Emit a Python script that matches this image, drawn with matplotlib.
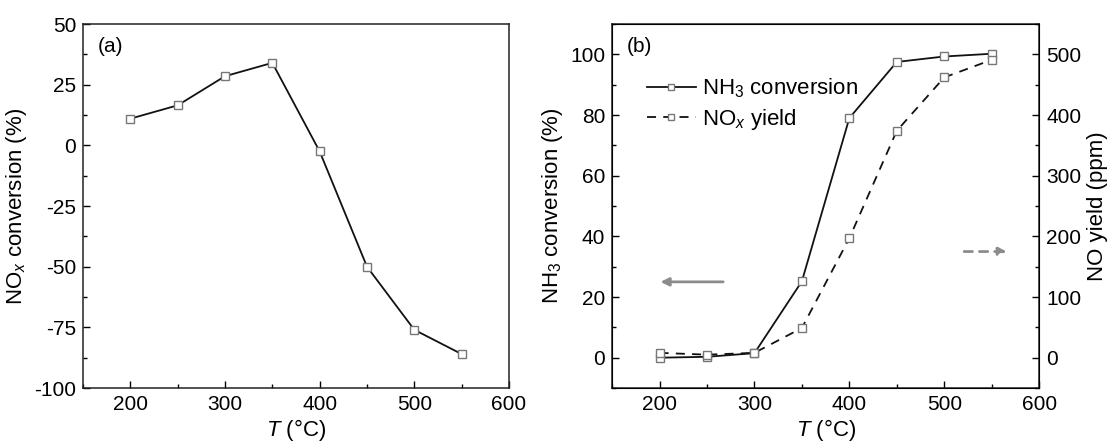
import matplotlib
matplotlib.use("Agg")
import matplotlib.pyplot as plt
from matplotlib.ticker import MultipleLocator, AutoMinorLocator

plt.rcParams['font.family'] = ['Liberation Sans', 'DejaVu Sans']
plt.rcParams['mathtext.fontset'] = 'custom'
plt.rcParams['mathtext.rm'] = 'Liberation Sans'
plt.rcParams['mathtext.it'] = 'Liberation Sans:italic'
plt.rcParams['axes.unicode_minus'] = False
plt.rcParams['font.size'] = 15
plt.rcParams['xtick.labelsize'] = 15
plt.rcParams['ytick.labelsize'] = 15
plt.rcParams['axes.labelsize'] = 16

# data
temps = [200, 250, 300, 350, 400, 450, 500, 550]
nox_conversion = [11, 16.5, 28.5, 34, -2.5, -50, -76, -86]      # %
nh3_conversion = [0, 0.3, 1.5, 25.2, 79, 97.5, 99.3, 100.2]      # %
nox_yield = [8, 5, 8, 49, 197, 374, 462, 491]                     # ppm

line_c = '#111111'
mk_edge = '#777777'
arrow_c = '#8c8c8c'

fig = plt.figure(figsize=(11.13, 4.45), dpi=100)
ax1 = fig.add_axes([0.0746, 0.128, 0.3827, 0.818])
ax2 = fig.add_axes([0.55, 0.128, 0.3836, 0.818])


def style_axis(ax):
    ax.tick_params(which='both', direction='in', top=False, right=False)
    ax.tick_params(which='major', length=5, width=1, pad=5)
    ax.tick_params(which='minor', length=3, width=1)
    for s in ax.spines.values():
        s.set_linewidth(1.1)
        s.set_color('#222222')


# (a) NOx conversion
ax1.plot(temps, nox_conversion, '-s', color=line_c, lw=1.3, ms=6,
         mfc='white', mec=mk_edge, mew=1.0)
ax1.set_xlim(150, 600)
ax1.set_ylim(-100, 50)
ax1.xaxis.set_major_locator(MultipleLocator(100))
ax1.xaxis.set_minor_locator(AutoMinorLocator(2))
ax1.yaxis.set_major_locator(MultipleLocator(25))
ax1.yaxis.set_minor_locator(AutoMinorLocator(2))
style_axis(ax1)
ax1.set_xlabel(r'$\mathit{T}$ ($\degree$C)', labelpad=2)
ax1.set_ylabel(r'NO$_{\mathit{x}}$ conversion (%)', labelpad=4)
ax1.text(0.035, 0.965, '(a)', transform=ax1.transAxes, ha='left', va='top',
         fontsize=15)

# (b) NH3 conversion and NOx yield
ax2.plot(temps, nh3_conversion, '-s', color=line_c, lw=1.3, ms=6,
         mfc='white', mec=mk_edge, mew=1.0, label=r'NH$_3$ conversion')
ax2.set_xlim(150, 600)
ax2.set_ylim(-10, 110)
ax2.xaxis.set_major_locator(MultipleLocator(100))
ax2.xaxis.set_minor_locator(AutoMinorLocator(2))
ax2.yaxis.set_major_locator(MultipleLocator(20))
ax2.yaxis.set_minor_locator(AutoMinorLocator(2))
style_axis(ax2)
ax2.set_xlabel(r'$\mathit{T}$ ($\degree$C)', labelpad=2)
ax2.set_ylabel(r'NH$_3$ conversion (%)', labelpad=4)
ax2.text(0.035, 0.965, '(b)', transform=ax2.transAxes, ha='left', va='top',
         fontsize=15)

ax3 = ax2.twinx()
ax3.plot(temps, nox_yield, '--s', color=line_c, lw=1.3, ms=6,
         mfc='white', mec=mk_edge, mew=1.0, dashes=(5, 4),
         label=r'NO$_{\mathit{x}}$ yield')
ax3.set_ylim(-50, 550)
ax3.yaxis.set_major_locator(MultipleLocator(100))
ax3.yaxis.set_minor_locator(AutoMinorLocator(2))
ax3.tick_params(which='both', direction='in', right=True, left=False)
ax3.tick_params(which='major', length=5, width=1, pad=5)
ax3.tick_params(which='minor', length=3, width=1)
ax3.set_ylabel('NO yield (ppm)', labelpad=4)

# axis indicator arrows
ax2.annotate('', xy=(201, 25), xytext=(267, 25),
             arrowprops=dict(arrowstyle='-|>', color=arrow_c, lw=2,
                             mutation_scale=12, shrinkA=0, shrinkB=0))
ax2.annotate('', xy=(566, 35), xytext=(521, 35),
             arrowprops=dict(arrowstyle='-|>', color=arrow_c, lw=2,
                             linestyle=(0, (3, 2.5)), mutation_scale=12,
                             shrinkA=0, shrinkB=0))

h1, l1 = ax2.get_legend_handles_labels()
h2, l2 = ax3.get_legend_handles_labels()
ax2.legend(h1 + h2, l1 + l2, loc='upper left', bbox_to_anchor=(0.06, 0.88),
           frameon=False, fontsize=16, handlelength=2.2, handletextpad=0.3,
           borderaxespad=0, labelspacing=0.3, markerscale=0.8)

fig.savefig('out.png', dpi=100)
